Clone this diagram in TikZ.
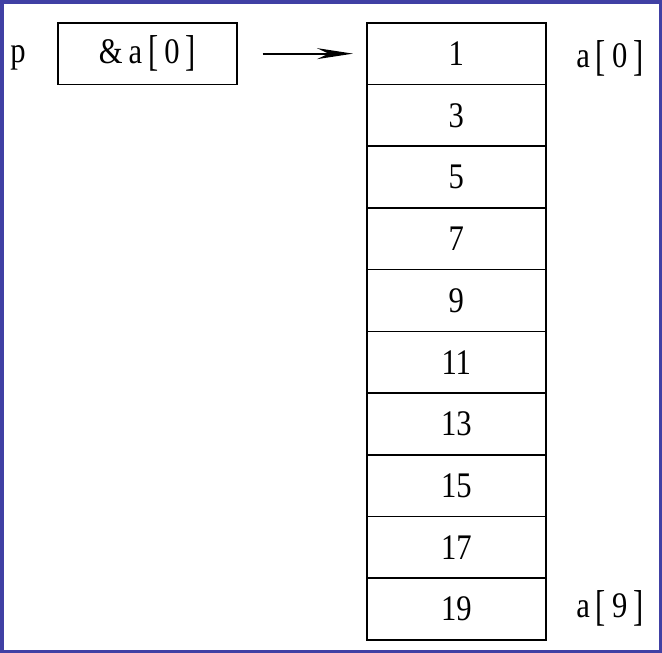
\documentclass[tikz,border=0pt]{standalone}
\usepackage{fontspec}
\setmainfont{Liberation Serif}[FakeStretch=0.85]
\usetikzlibrary{arrows.meta}
\definecolor{frame}{RGB}{64,64,164}
\newcommand\mylb{\,\raisebox{-0.06em}{\scalebox{1}[1.2]{[}}\,}
\newcommand\myrb{\,\raisebox{-0.06em}{\scalebox{1}[1.2]{]}}}
\begin{document}
\begin{tikzpicture}[x=1pt,y=-1pt,
  cell/.style={draw,line width=1.6pt,minimum width=179pt,minimum height=61.7pt,inner sep=0pt,anchor=north west,font=\fontsize{36}{36}\selectfont},
  lbl/.style={inner sep=0pt,font=\fontsize{36}{36}\selectfont},
  ptr/.style={line width=2pt,-{Stealth[length=36pt,width=11pt]}}]
\useasboundingbox (0,0) rectangle (662,653);
\draw[frame,line width=3.5pt] (1.75,1.75) rectangle (660.25,651.25);
\node[lbl] (p) at (18,58) {p};
\node[cell] (pbox) at (57,22) {\raisebox{-0.1em}{\&\,a\mylb 0\myrb}};
\foreach \v [count=\i from 0] in {1,3,5,7,9,11,13,15,17,19} {
  \node[cell] (c\i) at (366,22+61.7*\i) {\raisebox{-0.15em}{\v}};
}
\node[lbl] (l0) at (610,58) {a\mylb 0\myrb};
\node[lbl] (l9) at (610,608) {a\mylb 9\myrb};
\draw[ptr,shorten <=25pt,shorten >=13pt] (pbox.east) -- (c0.west);
\end{tikzpicture}
\end{document}
